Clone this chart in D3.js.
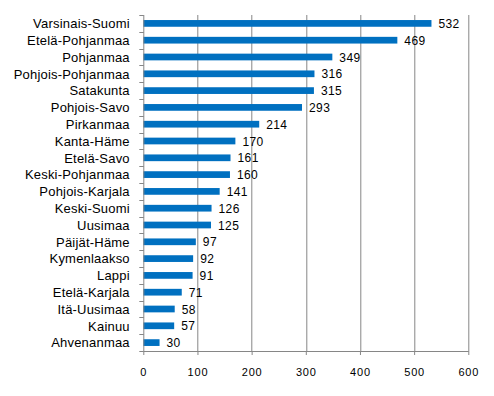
<!DOCTYPE html>
<html>
<head>
<meta charset="utf-8">
<script src="https://cdn.jsdelivr.net/npm/d3@7"></script>
<style>
    body { margin: 0; background: #fff; }
    svg { display: block; font-family: "Liberation Sans", Arial, sans-serif; }
</style>
</head>
<body>
<div id="chart"></div>
<script>
    var regions = ["Varsinais-Suomi", "Etelä-Pohjanmaa", "Pohjanmaa", "Pohjois-Pohjanmaa", "Satakunta",
        "Pohjois-Savo", "Pirkanmaa", "Kanta-Häme", "Etelä-Savo", "Keski-Pohjanmaa", "Pohjois-Karjala",
        "Keski-Suomi", "Uusimaa", "Päijät-Häme", "Kymenlaakso", "Lappi", "Etelä-Karjala", "Itä-Uusimaa",
        "Kainuu", "Ahvenanmaa"];
    var counts = [532, 469, 349, 316, 315, 293, 214, 170, 161, 160, 141, 126, 125, 97, 92, 91, 71, 58, 57, 30];
    var xTicks = [0, 100, 200, 300, 400, 500, 600];

    var svg = d3.select("#chart").append("svg")
        .attr("width", 494)
        .attr("height", 396);

    var margin = {top: 15, left: 143.3};
    var width = 325;
    var height = 336;

    var g = svg.append("g")
        .attr("transform", "translate(" + margin.left + "," + margin.top + ")");

    var data = regions.map(function (r, i) { return {region: r, count: counts[i]}; });

    var x = d3.scaleLinear().domain([0, 600]).range([0, width]);
    var y = d3.scaleBand()
        .domain(regions)
        .range([0, height])
        .paddingInner(0.6)
        .paddingOuter(0.3);

    var gridColor = "#868686";

    // vertical gridlines
    g.selectAll(".grid")
        .data(xTicks.slice(1))
        .enter().append("line")
        .attr("x1", function (d) { return Math.round(x(d)) + 0.5; })
        .attr("x2", function (d) { return Math.round(x(d)) + 0.5; })
        .attr("y1", 0)
        .attr("y2", height)
        .attr("stroke", gridColor);

    // bars
    g.selectAll(".bar")
        .data(data)
        .enter().append("rect")
        .attr("x", 0)
        .attr("y", function (d) { return y(d.region); })
        .attr("width", function (d) { return x(d.count); })
        .attr("height", y.bandwidth())
        .attr("fill", "#0070C0");

    // value labels
    g.selectAll(".val")
        .data(data)
        .enter().append("text")
        .attr("x", function (d) { return x(d.count) + 7; })
        .attr("y", function (d) { return y(d.region) + y.bandwidth() / 2 + 4.5; })
        .attr("font-size", "12px")
        .attr("letter-spacing", "0.4px")
        .attr("fill", "#000")
        .text(function (d) { return d.count; });

    // y axis: line + ticks between categories
    var yTickPos = d3.range(regions.length + 1).map(function (i) { return i * height / regions.length; });
    g.append("line")
        .attr("x1", 0.5).attr("x2", 0.5)
        .attr("y1", 0).attr("y2", height)
        .attr("stroke", gridColor);
    g.selectAll(".ytick")
        .data(yTickPos)
        .enter().append("line")
        .attr("x1", -4).attr("x2", 0.5)
        .attr("y1", function (d) { return Math.round(d) + 0.5; })
        .attr("y2", function (d) { return Math.round(d) + 0.5; })
        .attr("stroke", gridColor);

    // category labels
    g.selectAll(".cat")
        .data(data)
        .enter().append("text")
        .attr("x", -13.5)
        .attr("y", function (d) { return y(d.region) + y.bandwidth() / 2 + 4.8; })
        .attr("text-anchor", "end")
        .attr("font-size", "13px")
        .attr("letter-spacing", "0.2px")
        .attr("fill", "#000")
        .text(function (d) { return d.region; });

    // x axis
    var xAxis = g.append("g")
        .attr("transform", "translate(0," + height + ")")
        .call(d3.axisBottom(x).tickValues(xTicks).tickSize(4).tickSizeOuter(0).tickFormat(d3.format("d")));
    xAxis.select(".domain").attr("stroke", gridColor).attr("d", "M0.5,0.5H" + (width + 0.5));
    xAxis.selectAll(".tick line").attr("stroke", gridColor);
    xAxis.selectAll(".tick text")
        .attr("y", 21)
        .attr("dy", "0.32em")
        .attr("font-size", "11px")
        .attr("letter-spacing", "0.8px")
        .attr("font-family", "Liberation Sans, Arial, sans-serif")
        .attr("fill", "#000");
</script>
</body>
</html>
